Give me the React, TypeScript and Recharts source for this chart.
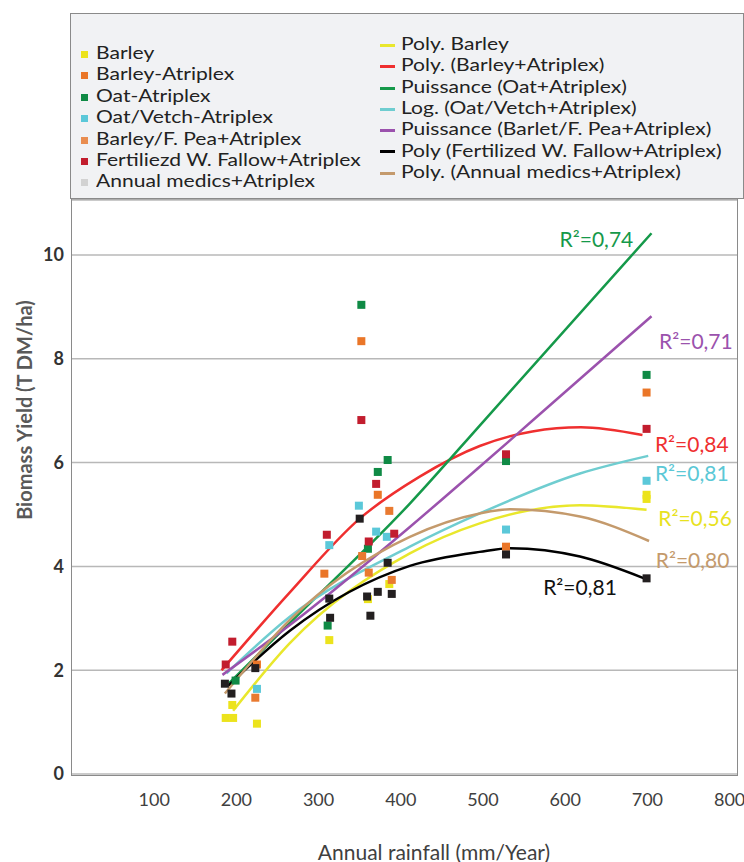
import {
  ComposedChart,
  Scatter,
  Line,
  XAxis,
  YAxis,
  CartesianGrid,
  ReferenceDot,
} from 'recharts'

const FONT = 'Lato, "Open Sans", sans-serif'

// measured points: [rainfall mm/yr, biomass T DM/ha]
const barley = [[195, 1.33], [187, 1.08], [196, 1.08], [225, 0.97], [313, 2.58], [360, 3.37], [386, 3.66], [699, 5.38], [699, 5.3]]
const barleyAtriplex = [[225, 2.11], [307, 3.86], [352, 8.34], [372, 5.38], [528, 4.38], [699, 7.35]]
const oatAtriplex = [[199, 1.8], [311, 2.86], [352, 9.04], [372, 5.82], [384, 6.05], [360, 4.34], [528, 6.03], [699, 7.69]]
const oatVetch = [[225, 1.64], [313, 4.41], [349, 5.17], [370, 4.67], [383, 4.57], [528, 4.71], [699, 5.65]]
const barleyPea = [[223, 1.47], [353, 4.2], [361, 3.88], [386, 5.07], [389, 3.74]]
const fallow = [[195, 2.55], [187, 2.11], [310, 4.61], [352, 6.82], [370, 5.59], [361, 4.48], [392, 4.63], [528, 6.16], [699, 6.65]]
const fallowFert = [[223, 2.04], [186, 1.74], [194, 1.55], [350, 4.92], [384, 4.07], [372, 3.51], [389, 3.47], [359, 3.42], [313, 3.38], [363, 3.05], [314, 3.01], [528, 4.23], [699, 3.77]]
const medics: number[][] = []

// trend lines
const trendBarley = [[196, 1.22], [265, 2.52], [411, 4.25], [496, 4.83], [618, 5.18], [699, 5.09]]
const trendBarleyAtriplex = [[182, 2.0], [265, 3.5], [350, 4.92], [423, 5.73], [496, 6.32], [560, 6.6], [619, 6.68], [694, 6.53]]
const trendOat = [[191, 1.75], [265, 2.91], [411, 5.21], [502, 6.82], [705, 10.42]]
const trendVetch = [[188, 1.94], [265, 3.03], [411, 4.38], [496, 5.02], [618, 5.79], [701, 6.13]]
const trendPea = [[183, 1.91], [265, 2.87], [411, 4.76], [496, 5.92], [561, 6.82], [705, 8.82]]
const trendFallow = [[190, 1.7], [265, 2.76], [411, 4.01], [496, 4.28], [533, 4.35], [618, 4.19], [696, 3.77]]
const trendMedics = [[186, 1.55], [265, 2.97], [411, 4.57], [496, 5.02], [533, 5.1], [618, 4.96], [702, 4.49]]

const rainTicks = [100, 200, 300, 400, 500, 600, 700, 800]
const yieldTicks = [0, 2, 4, 6, 8, 10]

const r2Labels = [
  { text: 'R²=0,74', x: 638, y: 10.29, color: '#15994a' },
  { text: 'R²=0,71', x: 759, y: 8.33, color: '#9b52ad' },
  { text: 'R²=0,84', x: 754, y: 6.34, color: '#ef2f2f' },
  { text: 'R²=0,81', x: 754, y: 5.79, color: '#5bc8d6' },
  { text: 'R²=0,56', x: 758, y: 4.93, color: '#e8e21f' },
  { text: 'R²=0,80', x: 755, y: 4.12, color: '#c49a6c' },
  { text: 'R²=0,81', x: 618, y: 3.6, color: '#111111' },
]

const toXY = (pts: number[][]) => pts.map(([x, y]) => ({ x, y }))

const markers = [
  { name: 'Barley', data: barley, color: '#ece31c', legend: '#ece31c' },
  { name: 'Barley-Atriplex', data: barleyAtriplex, color: '#ea7628', legend: '#ea7628' },
  { name: 'Oat-Atriplex', data: oatAtriplex, color: '#0f8a45', legend: '#0f8a45' },
  { name: 'Oat/Vetch-Atriplex', data: oatVetch, color: '#5bc8d9', legend: '#5bc8d9' },
  { name: 'Barley/F. Pea+Atriplex', data: barleyPea, color: '#e97a30', legend: '#e98d50' },
  { name: 'Fertiliezd W. Fallow+Atriplex', data: fallow, color: '#c21d2e', legend: '#c21d2e' },
  { name: 'Annual medics+Atriplex', data: medics, color: '#d2d2d2', legend: '#d2d2d2' },
]

const trends = [
  { name: 'Poly. Barley', data: trendBarley, color: '#e9e72c' },
  { name: 'Poly. (Barley+Atriplex)', data: trendBarleyAtriplex, color: '#ef2f2f' },
  { name: 'Puissance (Oat+Atriplex)', data: trendOat, color: '#15994a' },
  { name: 'Log. (Oat/Vetch+Atriplex)', data: trendVetch, color: '#6fcdd0' },
  { name: 'Puissance (Barlet/F. Pea+Atriplex)', data: trendPea, color: '#9b52ad' },
  { name: 'Poly (Fertilized W. Fallow+Atriplex)', data: trendFallow, color: '#000000' },
  { name: 'Poly. (Annual medics+Atriplex)', data: trendMedics, color: '#c49a6c' },
]

const square = (color: string) => (p: any) => (
  <rect x={p.cx - 4} y={p.cy - 4} width={8} height={8} fill={color} />
)

// legend text in the source is a touch wider than it is tall
const stretched = {
  display: 'inline-block',
  transform: 'scaleX(1.17)',
  transformOrigin: 'left center',
}

function LegendBox() {
  return (
    <div
      style={{
        position: 'absolute',
        left: 70,
        top: 13,
        width: 672,
        height: 184,
        border: '1.5px solid #8a8a8a',
        background: '#f1f2f4',
        fontFamily: FONT,
        fontSize: 18,
        color: '#222',
      }}
    >
      {markers.map((m, i) => (
        <div key={m.name} style={{ position: 'absolute', left: 10, top: 28 + i * 21.4, height: 20, lineHeight: '20px', whiteSpace: 'nowrap' }}>
          <span style={{ display: 'inline-block', width: 7, height: 7, background: m.legend, marginRight: 8, verticalAlign: 'middle' }} />
          <span style={stretched}>{m.name}</span>
        </div>
      ))}
      {trends.map((t, i) => (
        <div key={t.name} style={{ position: 'absolute', left: 309, top: 19 + i * 21.3, height: 20, lineHeight: '20px', whiteSpace: 'nowrap' }}>
          <span style={{ display: 'inline-block', width: 15, height: 3, background: t.color, marginRight: 6, verticalAlign: 'middle' }} />
          <span style={stretched}>{t.name}</span>
        </div>
      ))}
    </div>
  )
}

export default function App() {
  return (
    <div style={{ position: 'absolute', left: 0, top: 0, width: 744, height: 862, background: '#fff' }}>
      <div
        style={{
          position: 'absolute',
          left: 71,
          top: 199,
          width: 665,
          height: 575,
          border: '1.5px solid #8a8a8a',
        }}
      />
      <LegendBox />
      <div style={{ position: 'absolute', left: 0, top: 0 }}>
        <ComposedChart width={744} height={862} margin={{ top: 200, right: 7, bottom: 48, left: 12 }}>
          <CartesianGrid vertical={false} stroke="#b8b8b8" strokeWidth={1.5} />
          <XAxis
            dataKey="x"
            type="number"
            domain={[0, 809]}
            ticks={rainTicks}
            allowDataOverflow
            height={40}
            axisLine={false}
            tickLine={false}
            tickSize={0}
            tickMargin={19}
            tick={{ fill: '#404040', fontSize: 18, fontFamily: FONT }}
          />
          <YAxis
            dataKey="y"
            type="number"
            domain={[0, 11.06]}
            ticks={yieldTicks}
            allowDataOverflow
            width={60}
            axisLine={false}
            tickLine={false}
            tickSize={0}
            tickMargin={8}
            tick={{ fill: '#333', fontSize: 18, fontWeight: 700, fontFamily: FONT }}
          />
          {trends.map((t) => (
            <Line
              key={t.name}
              data={toXY(t.data)}
              dataKey="y"
              type="monotone"
              stroke={t.color}
              strokeWidth={2.5}
              dot={false}
              activeDot={false}
              isAnimationActive={false}
            />
          ))}
          {markers.map((m) => (
            <Scatter
              key={m.name}
              data={toXY(m.data)}
              dataKey="y"
              shape={square(m.color)}
              isAnimationActive={false}
            />
          ))}
          <Scatter data={toXY(fallowFert)} dataKey="y" shape={square('#231f20')} isAnimationActive={false} />
          {r2Labels.map((l, i) => (
            <ReferenceDot
              key={i}
              x={l.x}
              y={l.y}
              r={0}
              stroke="none"
              ifOverflow="visible"
              label={{ value: l.text, position: 'center', fill: l.color, fontSize: 21, fontFamily: FONT }}
            />
          ))}
        </ComposedChart>
      </div>
      <div
        style={{
          position: 'absolute',
          left: 24,
          top: 410,
          transform: 'translate(-50%, -50%) rotate(-90deg)',
          whiteSpace: 'nowrap',
          fontFamily: FONT,
          fontSize: 20,
          fontWeight: 700,
          color: '#595959',
        }}
      >
        Biomass Yield (T DM/ha)
      </div>
      <div
        style={{
          position: 'absolute',
          left: 434,
          top: 851,
          transform: 'translate(-50%, -50%)',
          whiteSpace: 'nowrap',
          fontFamily: FONT,
          fontSize: 21,
          color: '#404040',
        }}
      >
        Annual rainfall (mm/Year)
      </div>
    </div>
  )
}
